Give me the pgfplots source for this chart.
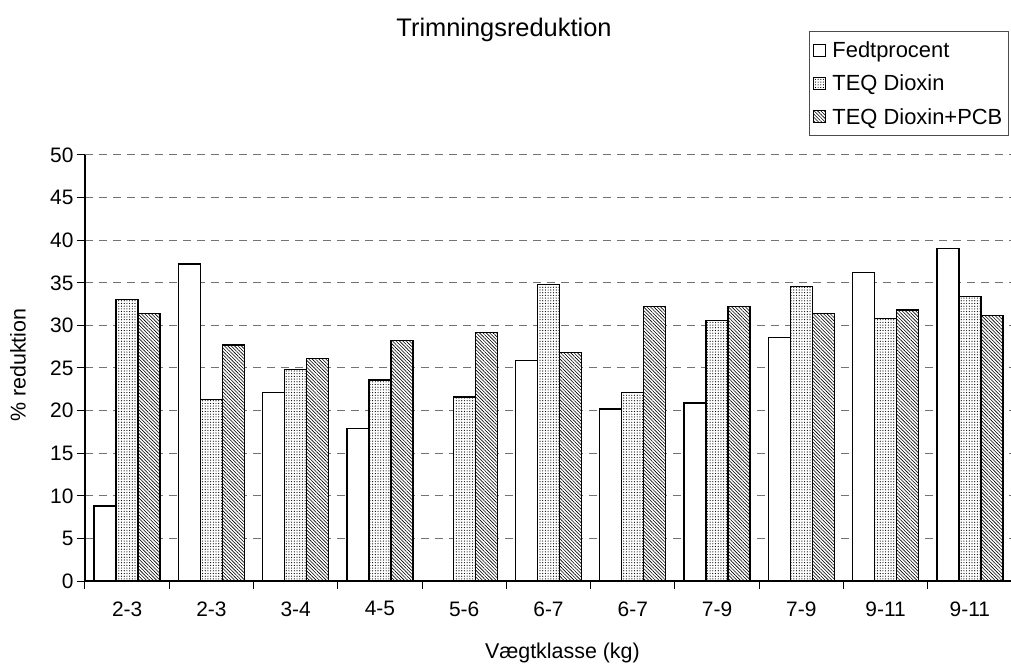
\documentclass[border=0pt]{standalone}
\usepackage{fontspec}
\setmainfont{Liberation Sans}
\usepackage{pgfplots}
\pgfplotsset{compat=1.18}
\usetikzlibrary{patterns.meta,calc}

\pgfplotsset{
  sqlegend/.style={legend image code/.code={
      \draw[##1,line width=0.8bp] (1bp,-6bp) rectangle (13bp,6bp);
      \path (17bp,0bp);}},
}

\begin{document}
\begin{tikzpicture}
\begin{axis}[
    name=ax,
    scale only axis,
    width=927bp, height=426bp,
    xmin=-0.5, xmax=10.5,
    ymin=0, ymax=50,
    ytick={0,5,...,50},
    xtick={-0.5,0.5,...,10.5},
    xticklabels={,,,,,,,,,,,},
    extra x ticks={0,1,...,10},
    extra x tick labels={2-3,2-3,3-4,4-5,5-6,6-7,6-7,7-9,7-9,9-11,9-11},
    extra x tick style={major tick length=0pt},
    axis x line=bottom, axis y line=left,
    axis line style={-, line width=1.2bp},
    tick align=outside,
    major tick length=8bp,
    tick style={line width=1bp, black},
    ymajorgrids=true,
    grid style={dash pattern=on 8bp off 6bp, line width=1bp, black!55},
    /pgf/number format/assume math mode=true,
    ticklabel style={font=\fontsize{21}{25}\selectfont},
    xticklabel style={yshift=-17bp},
    title={Trimningsreduktion},
    title style={at={(axis description cs:0.452,1.28)}, anchor=center, font=\fontsize{25.5}{30}\selectfont},
    ylabel={\% reduktion},
    ylabel style={at={(axis description cs:-0.0723,0.507)}, anchor=center, font=\fontsize{21.5}{25}\selectfont},
    xlabel={Vægtklasse (kg)},
    xlabel style={at={(axis description cs:0.515,-0.168)}, anchor=center, font=\fontsize{21.5}{25}\selectfont},
    legend style={at={(axis description cs:0.781,1.291)}, anchor=north west, draw=black!70, line width=0.8bp,
        font=\fontsize{22}{26}\selectfont, row sep=12bp, inner xsep=4bp, inner ysep=8bp},
    legend cell align=left,
]

% Fedtprocent
\addplot[ybar, bar width=22bp, bar shift=-22bp, draw=black, line width=1.3bp, fill=white, sqlegend]
    coordinates {(0,8.8)(1,37.2)(2,22.1)(3,17.9)(5,25.9)(6,20.2)(7,20.9)(8,28.6)(9,36.2)(10,39.0)};

% TEQ Dioxin
\addplot[ybar, bar width=22bp, bar shift=0bp, draw=black, line width=1.3bp,
    preaction={fill=white}, pattern={Dots[distance=2.7bp, radius=0.6bp]}, pattern color=black, sqlegend]
    coordinates {(0,33.0)(1,21.3)(2,24.8)(3,23.6)(4,21.6)(5,34.8)(6,22.1)(7,30.6)(8,34.6)(9,30.8)(10,33.4)};

% TEQ Dioxin+PCB
\addplot[ybar, bar width=22bp, bar shift=22bp, draw=black, line width=1.3bp,
    preaction={fill=white}, pattern={Lines[angle=-45, distance=2.4bp, line width=0.6bp]}, pattern color=black, sqlegend]
    coordinates {(0,31.4)(1,27.7)(2,26.1)(3,28.2)(4,29.2)(5,26.8)(6,32.2)(7,32.2)(8,31.4)(9,31.8)(10,31.2)};

\legend{Fedtprocent,TEQ Dioxin,TEQ Dioxin+PCB}
\end{axis}
\pgfresetboundingbox
\path[use as bounding box] ($(ax.south west)+(-85bp,-87bp)$) rectangle ($(ax.south west)+(926bp,581bp)$);
\end{tikzpicture}
\end{document}
